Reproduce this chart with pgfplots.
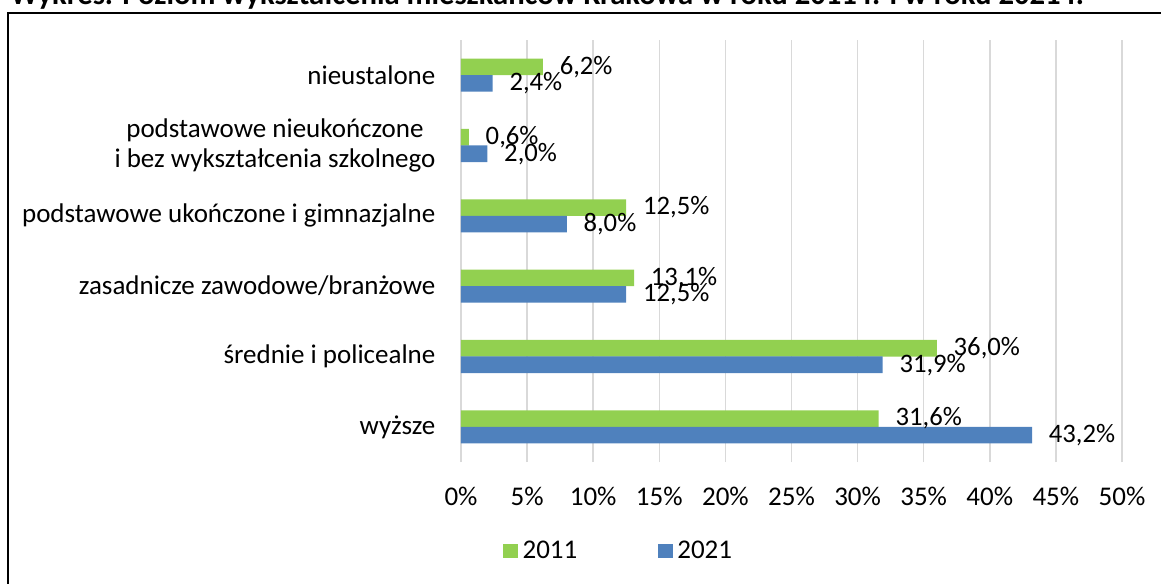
\documentclass[border=0pt]{standalone}
\usepackage{pgfplots}
\pgfplotsset{compat=1.18}
\usepackage{fontspec}
\setmainfont{Carlito}
\definecolor{g11}{RGB}{146,208,80}
\definecolor{b21}{RGB}{79,129,189}
\definecolor{gridc}{RGB}{217,217,217}
\begin{document}
\begin{tikzpicture}
\draw[line width=1.5pt] (6pt,-460pt) -- (6pt,-9.4pt) -- (880pt,-9.4pt);
\node[anchor=base west, inner sep=0pt, font=\bfseries\fontsize{23}{26}\selectfont] at (7.5pt,-3pt) {Wykres. Poziom wykształcenia mieszkańców Krakowa w roku 2011 r. i w roku 2021 r.};
\begin{axis}[
  at={(345.75pt,-346.5pt)}, anchor=south west,
  scale only axis, width=495.75pt, height=316.5pt,
  xmin=0, xmax=50, ymin=-0.5, ymax=5.5,
  axis line style={draw=none},
  xtick={0,5,...,50},
  xticklabels={0\%,5\%,10\%,15\%,20\%,25\%,30\%,35\%,40\%,45\%,50\%},
  ytick={0,...,5},
  yticklabels={wyższe, średnie i policealne, zasadnicze zawodowe/branżowe, podstawowe ukończone i gimnazjalne, {podstawowe nieukończone\\i bez wykształcenia szkolnego}, nieustalone},
  major tick length=0pt,
  xmajorgrids, ymajorgrids=false,
  grid style={draw=gridc, line width=1.1pt},
  tick label style={font=\fontsize{20.25}{22.5}\selectfont, inner sep=0pt},
  xticklabel style={anchor=base, yshift=-32.25pt},
  yticklabel style={anchor=east, xshift=-19pt, align=center},
  point meta=x,
  nodes near coords={\pgfmathprintnumber[fixed,fixed zerofill,precision=1,use comma,assume math mode=true]{\pgfplotspointmeta}\%},
  every node near coord/.append style={anchor=west, inner sep=0pt, xshift=12.4pt, font=\fontsize{20}{22}\selectfont, text=black},
  legend columns=2,
  legend style={at={(0.0635,-0.2109)}, anchor=west, draw=none, fill=none, inner sep=0pt,
    font=\fontsize{20.25}{22}\selectfont, nodes={inner xsep=3.5pt, inner ysep=0pt},
    /tikz/every even column/.append style={column sep=57pt}},
  legend cell align=left,
]
\addplot[xbar, bar width=12.45pt, bar shift=6.2pt, fill=g11, draw=none,
  every node near coord/.append style={yshift=6.2pt},
  legend image code/.code={\fill[g11] (0pt,-5.5pt) rectangle (11pt,5.5pt);}]
  coordinates {(31.6,0) (36.0,1) (13.1,2) (12.5,3) (0.6,4) (6.2,5)};
\addlegendentry{2011}
\addplot[xbar, bar width=12.45pt, bar shift=-6.2pt, fill=b21, draw=none,
  every node near coord/.append style={yshift=-6.2pt},
  legend image code/.code={\fill[b21] (0pt,-5.5pt) rectangle (11pt,5.5pt);}]
  coordinates {(43.2,0) (31.9,1) (12.5,2) (8.0,3) (2.0,4) (2.4,5)};
\addlegendentry{2021}
\end{axis}
\pgfresetboundingbox
\path[use as bounding box] (0,0) rectangle (870.75pt,-437.25pt);
\end{tikzpicture}
\end{document}
